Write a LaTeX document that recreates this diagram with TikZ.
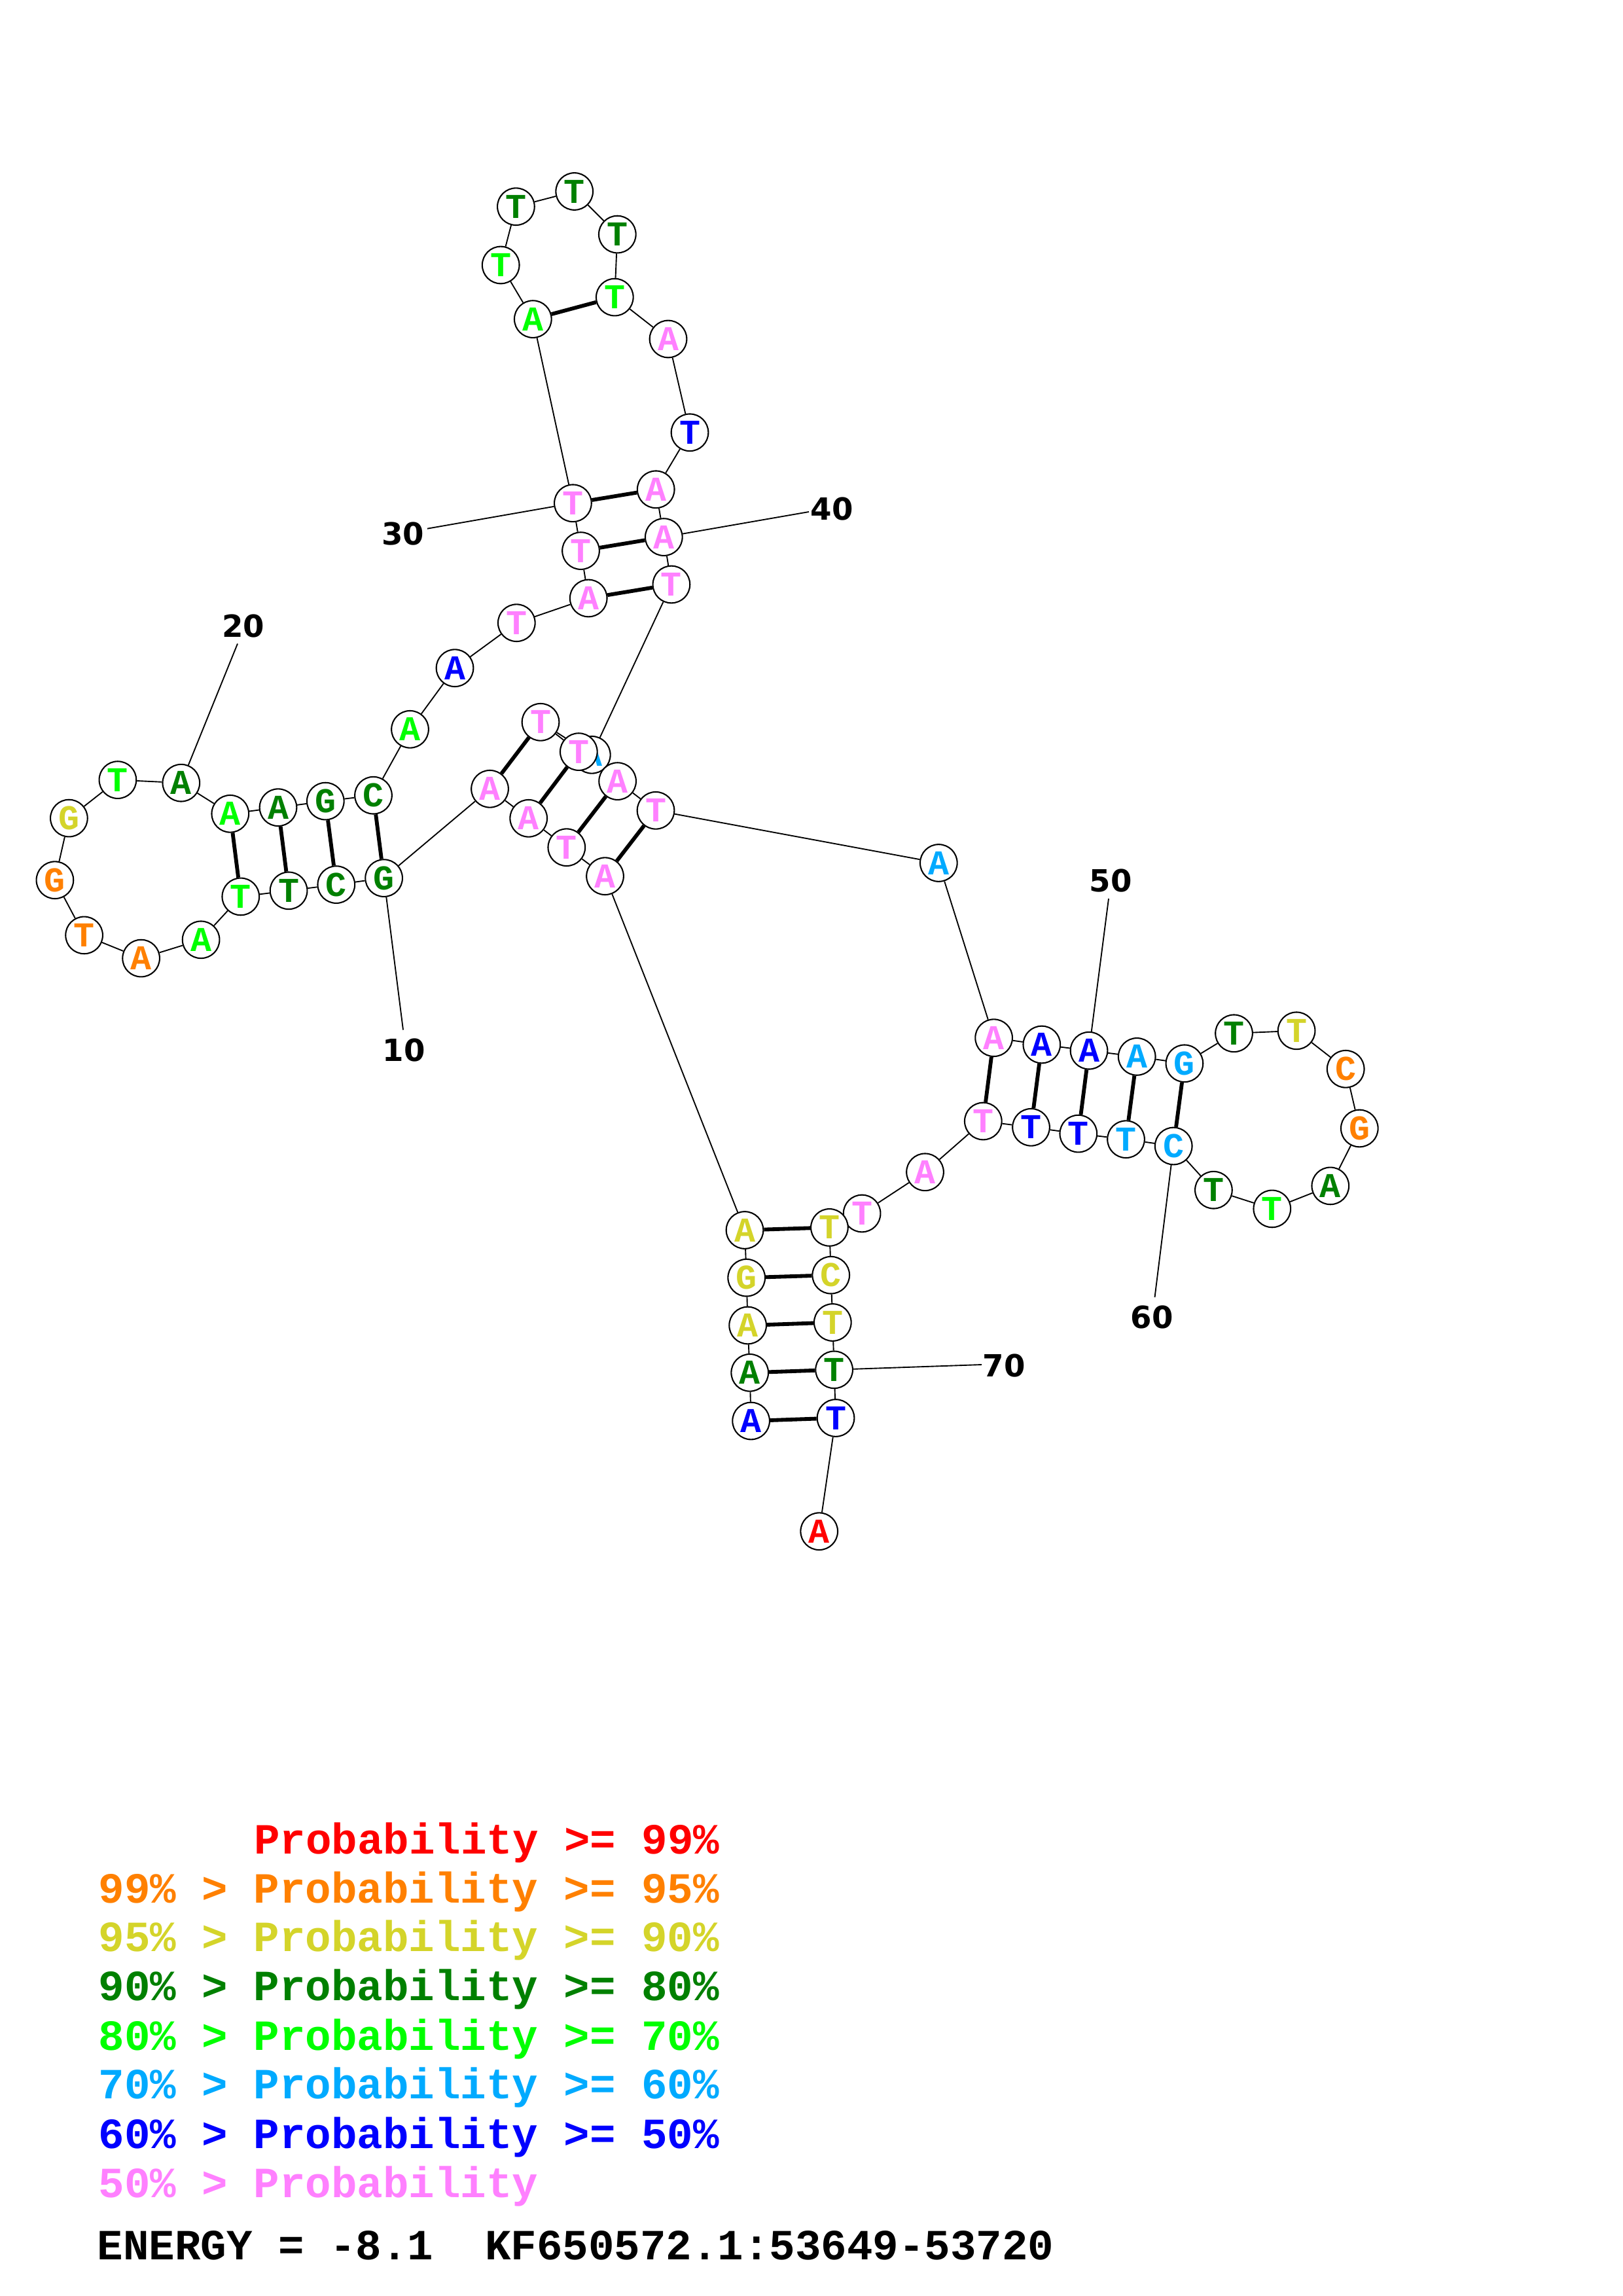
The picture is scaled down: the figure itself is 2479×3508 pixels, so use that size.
\documentclass[tikz,border=0pt]{standalone}
\usepackage{fontspec}
\newfontfamily\basefont{Liberation Mono}
\newfontfamily\labfont{DejaVu Sans}
\usetikzlibrary{backgrounds}
\definecolor{cred}{RGB}{255,0,0}
\definecolor{corange}{RGB}{255,128,0}
\definecolor{cyellow}{RGB}{212,212,42}
\definecolor{cdkgreen}{RGB}{0,128,0}
\definecolor{cgreen}{RGB}{0,255,0}
\definecolor{ccyan}{RGB}{0,170,255}
\definecolor{cblue}{RGB}{0,0,255}
\definecolor{cpink}{RGB}{255,128,255}
\tikzset{
  nt/.style={circle, draw=black, line width=0.5pt, fill=white, minimum size=13.6pt, inner sep=0pt,
    font={\basefont\bfseries\fontsize{12.8pt}{14pt}\selectfont}},
  bb/.style={line width=0.45pt, black},
  pairline/.style={line width=1.4pt, black},
  numlab/.style={inner sep=0pt, font={\labfont\bfseries\fontsize{11.2pt}{13pt}\selectfont}},
  legend/.style={anchor=base west, inner sep=0pt, font={\basefont\bfseries\fontsize{15.8pt}{18pt}\selectfont}}
}
\begin{document}
\begin{tikzpicture}[x=0.24pt,y=-0.24pt]
\useasboundingbox (0,0) rectangle (2479,3508);
\foreach \i/\x/\y/\c/\l in {
1/1147.6/2171/cblue/A,
2/1145.7/2097.3/cdkgreen/A,
3/1142.6/2025/cyellow/A,
4/1140.7/1952.2/cyellow/G,
5/1138/1879.5/cyellow/A,
6/924.5/1338.7/cpink/A,
7/865.8/1294.7/cpink/T,
8/807.7/1250.3/cpink/A,
9/748.5/1205.3/cpink/A,
10/586.6/1341.6/cdkgreen/G,
11/513.8/1351.6/cdkgreen/C,
12/441.1/1360.8/cdkgreen/T,
13/367.8/1369.9/cgreen/T,
14/307.1/1435.8/cgreen/A,
15/215.6/1464.1/corange/A,
16/128.6/1428.9/corange/T,
17/83.9/1344.7/corange/G,
18/105.4/1250.1/cyellow/G,
19/179.9/1191.6/cgreen/T,
20/276.8/1196.2/cdkgreen/A,
21/351.8/1243.3/cgreen/A,
22/425/1233.7/cdkgreen/A,
23/497.3/1224.1/cdkgreen/G,
24/570.5/1215.2/cdkgreen/C,
25/626.5/1114.3/cgreen/A,
26/695/1020.7/cblue/A,
27/789.3/951.7/cpink/T,
28/899.2/914/cpink/A,
29/887.5/841.6/cpink/T,
30/875.4/768.8/cpink/T,
31/814.3/487.6/cgreen/A,
32/765.2/405/cgreen/T,
33/788.4/315.7/cdkgreen/T,
34/877.7/292.5/cdkgreen/T,
35/943.3/358.1/cdkgreen/T,
36/939.3/454.1/cgreen/T,
37/1021/518/cpink/A,
38/1054/660.8/cblue/T,
39/1002.2/747.8/cpink/A,
40/1014.3/820.6/cpink/A,
41/1025.9/893/cpink/T,
42/904.3/1153.3/ccyan/A,
43/826/1103.3/cpink/T,
44/884.3/1148.6/cpink/T,
45/943.6/1193.6/cpink/A,
46/1002/1238.3/cpink/T,
47/1434.3/1318.5/ccyan/A,
48/1518.6/1585.7/cpink/A,
49/1591.8/1596/cblue/A,
50/1664/1605.2/cblue/A,
51/1737.2/1614.4/ccyan/A,
52/1809.9/1624.8/ccyan/G,
53/1885.5/1578.8/cdkgreen/T,
54/1981.1/1574.8/cyellow/T,
55/2056.2/1633.3/corange/C,
56/2077.3/1724/corange/G,
57/2032.8/1811.9/cdkgreen/A,
58/1943.8/1846.9/cgreen/T,
59/1854.4/1818.2/cdkgreen/T,
60/1793.2/1751/ccyan/C,
61/1720.5/1740.7/ccyan/T,
62/1647.8/1732.1/cblue/T,
63/1575.5/1722.3/cblue/T,
64/1502.3/1713/cpink/T,
65/1413.5/1790.8/cpink/A,
66/1317.1/1854/cpink/T,
67/1267.4/1875.4/cyellow/T,
68/1269.7/1948.2/cyellow/C,
69/1272.3/2020.5/cyellow/T,
70/1274.6/2092.8/cdkgreen/T,
71/1277/2166.5/cblue/T,
72/1251.7/2339.7/cred/A}
  \node[nt, text=\c] (n\i) at (\x,\y) {\l};
% numbering labels
\coordinate (e10) at (616,1573.5);
\coordinate (e20) at (363,983.5);
\coordinate (e30) at (653,807.7);
\coordinate (e40) at (1236,782);
\coordinate (e50) at (1694,1373);
\coordinate (e60) at (1764.5,1982);
\coordinate (e70) at (1500,2085);
\node[numlab] (l10) at (617,1605) {10};
\node[numlab] (l20) at (371.7,957) {20};
\node[numlab] (l30) at (615.8,815.8) {30};
\node[numlab] (l40) at (1271,778) {40};
\node[numlab] (l50) at (1697,1346) {50};
\node[numlab] (l60) at (1760,2012) {60};
\node[numlab] (l70) at (1534,2086) {70};
\begin{scope}[on background layer]
  \foreach \i in {1,...,71} {
    \pgfmathtruncatemacro{\j}{\i+1}
    \draw[bb] (n\i) -- (n\j);
  }
  \foreach \a/\b in {1/71,2/70,3/69,4/68,5/67,6/46,7/45,8/44,9/43,10/24,11/23,12/22,13/21,28/41,29/40,30/39,31/36,48/64,49/63,50/62,51/61,52/60}
    \draw[pairline] (n\a) -- (n\b);
  \foreach \k in {10,20,30,40,50,60,70}
    \draw[bb] (n\k) -- (e\k);
\end{scope}
% legend
\node[legend, text=cred] (g1) at (387.6,2832.7) {Probability >= 99\%};
\node[legend, text=corange] (g2) at (150,2907) {99\% > Probability >= 95\%};
\node[legend, text=cyellow] (g3) at (150,2981.9) {95\% > Probability >= 90\%};
\node[legend, text=cdkgreen] (g4) at (150,3056.7) {90\% > Probability >= 80\%};
\node[legend, text=cgreen] (g5) at (150,3132) {80\% > Probability >= 70\%};
\node[legend, text=ccyan] (g6) at (150,3206.9) {70\% > Probability >= 60\%};
\node[legend, text=cblue] (g7) at (150,3282.7) {60\% > Probability >= 50\%};
\node[legend, text=cpink] (g8) at (150,3357) {50\% > Probability};
\node[legend, text=black] (g9) at (148,3452.6) {ENERGY = -8.1~~KF650572.1:53649-53720};
\end{tikzpicture}
\end{document}
